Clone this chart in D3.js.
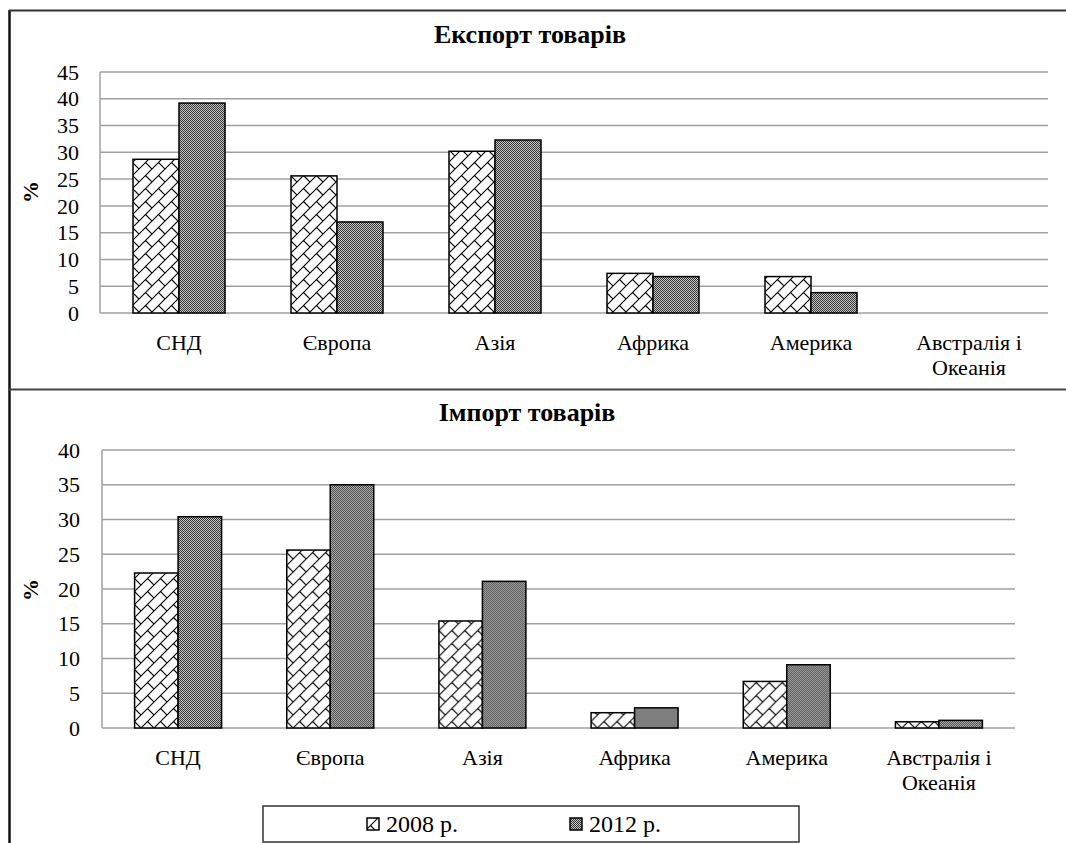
<!DOCTYPE html>
<html><head><meta charset="utf-8">
<script src="https://cdn.jsdelivr.net/npm/d3@7"></script>
<style>
@font-face{font-family:"RefSerif";src:local("Liberation Serif"),local("LiberationSerif"),local("Tinos"),local("Times New Roman");font-weight:normal;}
@font-face{font-family:"RefSerif";src:local("Liberation Serif Bold"),local("LiberationSerif-Bold"),local("Tinos Bold"),local("Times New Roman Bold");font-weight:bold;}
body{margin:0;background:#fff}svg{display:block}
</style>
</head><body><svg id="c" width="1066" height="843"></svg>
<script>
const categories = ["СНД","Європа","Азія","Африка","Америка","Австралія і|Океанія"];
const series = ["2008 р.","2012 р."];
const export2008 = [28.7,25.6,30.2,7.4,6.8,0];
const export2012 = [39.2,17.0,32.3,6.8,3.8,0];
const import2008 = [22.3,25.6,15.4,2.2,6.7,0.9];
const import2012 = [30.4,35.0,21.1,2.9,9.1,1.1];
const exportTicks = [0,5,10,15,20,25,30,35,40,45];
const importTicks = [0,5,10,15,20,25,30,35,40];

const FONT = '"Liberation Serif"';
const svg = d3.select("#c");
const defs = svg.append("defs");
// brick pattern
const P = 13;
const bp = defs.append("pattern").attr("id","brick").attr("patternUnits","userSpaceOnUse").attr("width",P).attr("height",P);
bp.append("rect").attr("width",P).attr("height",P).attr("fill","#fff");
bp.append("path").attr("d",`M-2,${P+2}L${P+2},-2M${P-2},${P+2}L${P+2},${P-2}M-2,2L2,-2M${P/2},${P/2}L${P},${P}`)
  .attr("stroke","#000").attr("stroke-width",1.1).attr("fill","none");
// dotted dark pattern
const dp = defs.append("pattern").attr("id","dots").attr("patternUnits","userSpaceOnUse").attr("width",2).attr("height",2);
dp.append("rect").attr("width",2).attr("height",2).attr("fill","#c8c8c8");
dp.append("rect").attr("width",1).attr("height",1).attr("fill","#333");
dp.append("rect").attr("x",1).attr("y",1).attr("width",1).attr("height",1).attr("fill","#333");
const fills = ["url(#brick)","url(#dots)"];

// frame
svg.append("line").attr("x1",9.5).attr("x2",9.5).attr("y1",10).attr("y2",843).attr("stroke","#111").attr("stroke-width",2.5);
svg.append("line").attr("x1",9).attr("x2",1066).attr("y1",10.5).attr("y2",10.5).attr("stroke","#333").attr("stroke-width",2);
svg.append("line").attr("x1",9).attr("x2",1066).attr("y1",389.5).attr("y2",389.5).attr("stroke","#444").attr("stroke-width",2);

function txt(x,y,s,size,opts={}){
  const t = svg.append("text").attr("x",x).attr("y",y).attr("font-size",size)
    .style("font-family",FONT).text(s);
  if(opts.anchor) t.attr("text-anchor",opts.anchor);
  if(opts.bold) t.attr("font-weight","bold");
  if(opts.dy) t.attr("dy",opts.dy);
  if(opts.transform) t.attr("transform",opts.transform);
  return t;
}

function chart(cfg){
  const g = svg.append("g");
  const y = d3.scaleLinear().domain([0,cfg.max]).range([cfg.y0,cfg.y1]);
  const x0 = d3.scaleBand().domain(categories).range([cfg.left,cfg.right]).padding(0);
  const gap = (x0.bandwidth()-2*cfg.barW)/2;
  const x1 = d3.scaleBand().domain(series).range([gap,x0.bandwidth()-gap]).padding(0);
  // grid
  g.selectAll(".grid").data(cfg.ticks).join("line")
    .attr("x1",cfg.left).attr("x2",cfg.right).attr("y1",d=>y(d)).attr("y2",d=>y(d))
    .attr("stroke","#a0a0a0").attr("stroke-width",1.5);
  g.append("line").attr("x1",cfg.left).attr("x2",cfg.left).attr("y1",y(cfg.max)).attr("y2",y(0))
    .attr("stroke","#a0a0a0").attr("stroke-width",1.5);
  // bars
  const data = categories.map((c,i)=>({c,vals:[cfg.a[i],cfg.b[i]]}));
  const grp = g.selectAll(".grp").data(data).join("g").attr("transform",d=>`translate(${x0(d.c)},0)`);
  grp.selectAll("rect").data(d=>d.vals.map((v,j)=>({v,s:series[j],j}))).join("rect")
    .filter(d=>d.v>0)
    .attr("x",d=>x1(d.s)).attr("width",x1.bandwidth())
    .attr("y",d=>y(d.v)).attr("height",d=>y(0)-y(d.v))
    .attr("fill",d=>fills[d.j]).attr("stroke","#000").attr("stroke-width",1.5);
  // y labels
  cfg.ticks.forEach(d=>txt(cfg.labX,y(d),String(d),22,{anchor:"end",dy:"0.35em"}));
  // % label
  txt(0,0,"%",22,{anchor:"middle",bold:true,dy:"0.35em",transform:`translate(${cfg.pctX},${cfg.pctY}) rotate(-90)`});
  // title
  txt(cfg.titleX,cfg.titleY,cfg.title,26,{anchor:"middle",bold:true});
  // category labels
  categories.forEach(c=>{
    c.split("|").forEach((line,i)=>txt(x0(c)+x0.bandwidth()/2,cfg.catY+i*25,line,22,{anchor:"middle"}));
  });
}

chart({title:"Експорт товарів",titleX:530,titleY:43,max:45,ticks:exportTicks,y0:313,y1:72,
  left:100,right:1048,barW:46,labX:79,pctX:30,pctY:192,catY:350,a:export2008,b:export2012});
chart({title:"Імпорт товарів",titleX:527,titleY:421,max:40,ticks:importTicks,y0:728,y1:450,
  left:102,right:1015,barW:43.5,labX:80,pctX:30,pctY:590,catY:765,a:import2008,b:import2012});

// legend
svg.append("rect").attr("x",263).attr("y",806).attr("width",536).attr("height",36)
  .attr("fill","#fff").attr("stroke","#333").attr("stroke-width",1.5);
const lx = [367,570];
series.forEach((s,i)=>{
  svg.append("rect").attr("x",lx[i]).attr("y",818).attr("width",12).attr("height",12)
    .attr("fill",fills[i]).attr("stroke","#000").attr("stroke-width",1.5);
  txt(lx[i]+19,832,s,24);
});
</script></body></html>
